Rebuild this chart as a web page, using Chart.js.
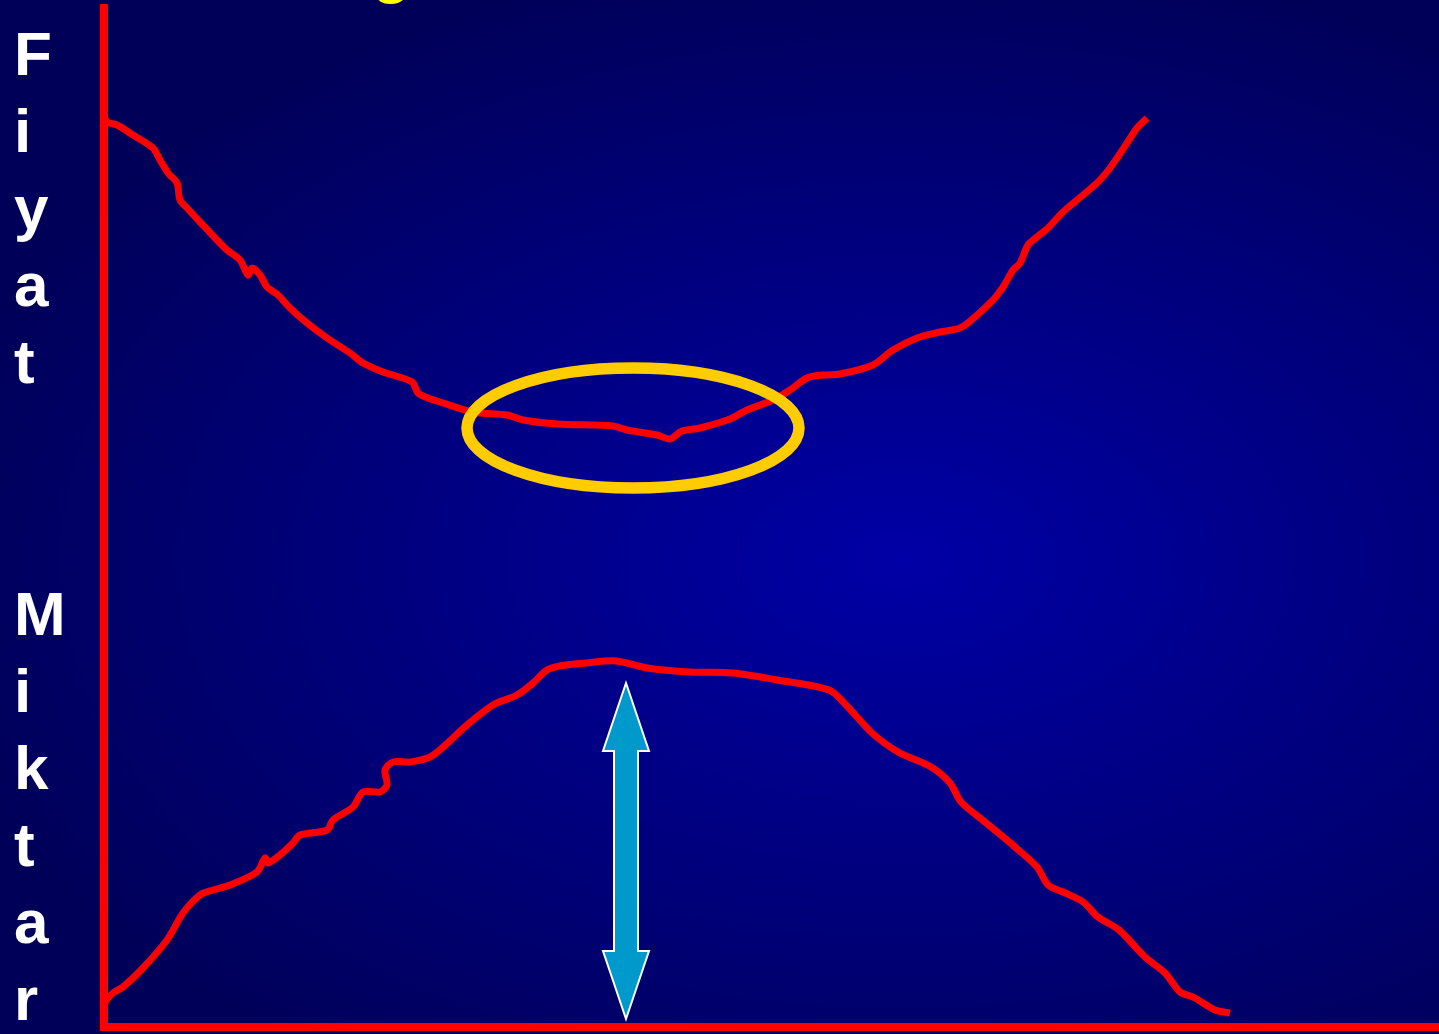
<!DOCTYPE html>
<html>
<head>
<meta charset="utf-8">
<script src="https://cdn.jsdelivr.net/npm/chart.js@4.4.1/dist/chart.umd.min.js"></script>
<style>
html, body {
    margin: 0;
    padding: 0;
    width: 1439px;
    height: 1034px;
    overflow: hidden;
}
body {
    position: relative;
    background: radial-gradient(ellipse 1000px 620px at 900px 560px, #0000a6 0%, #000058 100%);
    font-family: "Liberation Sans", Arial, sans-serif;
}
#wrap {
    position: absolute;
    left: 0;
    top: 0;
    width: 1439px;
    height: 1034px;
}
.col {
    position: absolute;
    left: 14px;
    color: #ffffff;
    font-weight: bold;
    font-size: 62px;
    line-height: 77px;
}
.col span { display: block; }
#title {
    position: absolute;
    left: 372px;
    top: -69px;
    color: #ffff00;
    font-weight: bold;
    font-size: 64px;
    line-height: 77px;
}
</style>
</head>
<body>
<div id="title">g</div>
<div class="col" id="fiyat" style="top:15px"></div>
<div class="col" id="miktar" style="top:575px"></div>
<div id="wrap"><canvas id="chart"></canvas></div>

<script>
// axis titles, written one letter under another
const priceLabel = 'Fiyat';
const qtyLabel = 'Miktar';

// price curve (upper line)
const priceX = [0, 0.3, 1.3, 2.9, 4.9, 5.6, 6.4, 7.3, 7.6, 8.3, 9.6, 11.3, 12.3, 13.6, 14.4, 14.8, 15.6,
    16.3, 17.4, 18.6, 20.3, 22.3, 24.6, 25.9, 27.9, 30.8, 31.4, 32.4, 33.6, 36.9, 40.3, 41.9, 45.3,
    50.9, 52.3, 55.3, 56.6, 57.8, 59.6, 62.6, 64.3, 66.9, 68.6, 70.3, 71.9, 73.6, 76.9, 78.9, 81.3,
    83.6, 85.8, 88.9, 89.9, 90.9, 91.6, 92.4, 93.3, 94.4, 95.9, 99.3, 100.6, 102.3, 103.3, 104.3];
const priceY = [91.2, 90.5, 90.2, 89.2, 87.9, 86.7, 85.4, 84.4, 82.7, 81.9, 80.5, 78.7, 77.7, 76.7, 75.2, 75.9, 75.2,
    74.0, 73.2, 71.9, 70.4, 68.9, 67.4, 66.4, 65.5, 64.5, 63.4, 62.9, 62.5, 61.5, 61.2, 60.7, 60.3,
    60.1, 59.7, 59.2, 58.8, 59.6, 59.9, 60.8, 61.7, 62.7, 63.7, 64.9, 65.2, 65.3, 66.2, 67.7, 68.9,
    69.5, 70.0, 72.7, 74.0, 75.7, 76.4, 78.2, 79.0, 79.9, 81.5, 84.4, 85.9, 88.4, 89.9, 90.9];

// quantity curve (lower line)
const qtyX = [0, 0.1, 0.9, 1.9, 3.9, 6.3, 7.9, 9.6, 10.9, 12.6, 15.3, 16.1, 16.4, 17.6, 18.9, 19.6, 22.3,
    22.9, 24.9, 25.9, 27.6, 28.3, 28.1, 28.9, 30.6, 32.8, 36.3, 38.9, 41.3, 42.9, 44.3, 45.6, 48.2,
    51.2, 54.3, 58.6, 62.9, 67.3, 72.5, 74.2, 76.8, 79.4, 82.7, 84.6, 85.7, 88.1, 91.1, 93.3, 94.4,
    95.9, 97.9, 99.4, 101.5, 104.1, 106.1, 107.6, 108.9, 111.1, 112.6];
const qtyY = [0.7, 2.4, 3.4, 4.0, 5.9, 8.7, 11.4, 13.2, 13.7, 14.2, 15.5, 16.9, 16.4, 17.2, 18.4, 19.2, 19.7,
    20.7, 22.0, 23.5, 23.5, 24.2, 25.7, 26.5, 26.5, 27.1, 30.2, 32.2, 33.2, 34.4, 35.7, 36.1, 36.4,
    36.6, 35.9, 35.5, 35.4, 34.7, 33.7, 32.2, 29.4, 27.5, 26.0, 24.4, 22.5, 20.5, 18.0, 16.0, 14.2,
    13.5, 12.5, 11.0, 9.7, 7.0, 5.4, 3.5, 3.0, 1.7, 1.4];

// marked spots: the ellipse round the lowest price, the arrow at the top quantity
const ringCenter = [52.9, 59.9];
const ringRadius = [16.6, 6.0];
const arrowX = 52.2;
const arrowY = [34.4, 0.8];

function fillLetters(id, word) {
    document.getElementById(id).innerHTML = word.split('').map(c => '<span>' + c + '</span>').join('');
}
fillLetters('fiyat', priceLabel);
fillLetters('miktar', qtyLabel);

function toPoints(xs, ys) {
    return xs.map((x, i) => ({ x: x, y: ys[i] }));
}

const marks = {
    id: 'marks',
    afterDatasetsDraw(chart) {
        const ctx = chart.ctx;
        const sx = chart.scales.x, sy = chart.scales.y;

        // yellow ellipse
        const cx = sx.getPixelForValue(ringCenter[0]);
        const cy = sy.getPixelForValue(ringCenter[1]);
        const rx = sx.getPixelForValue(ringCenter[0] + ringRadius[0]) - cx;
        const ry = cy - sy.getPixelForValue(ringCenter[1] + ringRadius[1]);
        ctx.save();
        ctx.beginPath();
        ctx.ellipse(cx, cy, rx, ry, 0, 0, Math.PI * 2);
        ctx.strokeStyle = '#ffcc00';
        ctx.lineWidth = 11.5;
        ctx.stroke();
        ctx.restore();

        // double arrow
        const ax = sx.getPixelForValue(arrowX);
        const top = sy.getPixelForValue(arrowY[0]);
        const bot = sy.getPixelForValue(arrowY[1]);
        const head = 68, hw = 23, sw = 12;
        ctx.save();
        ctx.beginPath();
        ctx.moveTo(ax, top);
        ctx.lineTo(ax + hw, top + head);
        ctx.lineTo(ax + sw, top + head);
        ctx.lineTo(ax + sw, bot - head);
        ctx.lineTo(ax + hw, bot - head);
        ctx.lineTo(ax, bot);
        ctx.lineTo(ax - hw, bot - head);
        ctx.lineTo(ax - sw, bot - head);
        ctx.lineTo(ax - sw, top + head);
        ctx.lineTo(ax - hw, top + head);
        ctx.closePath();
        ctx.fillStyle = '#0099cc';
        ctx.fill();
        ctx.strokeStyle = '#ffffff';
        ctx.lineWidth = 2;
        ctx.lineJoin = 'miter';
        ctx.stroke();
        ctx.restore();
    }
};

const axisOpts = {
    type: 'linear',
    ticks: { display: false },
    grid: { display: true, drawOnChartArea: false, drawTicks: false, color: 'rgba(0,0,0,0)', lineWidth: 0 },
    border: { display: true, color: '#ff0000', width: 8 }
};

new Chart(document.getElementById('chart'), {
    type: 'line',
    data: {
        datasets: [{
            label: priceLabel,
            data: toPoints(priceX, priceY),
            borderColor: '#ff0000',
            borderWidth: 7,
            pointRadius: 0,
            tension: 0.3,
            fill: false
        }, {
            label: qtyLabel,
            data: toPoints(qtyX, qtyY),
            borderColor: '#ff0000',
            borderWidth: 7,
            pointRadius: 0,
            tension: 0.3,
            fill: false
        }]
    },
    options: {
        responsive: true,
        maintainAspectRatio: false,
        animation: false,
        layout: { padding: { left: 104, top: 8, right: 0, bottom: 7 } },
        plugins: {
            legend: { display: false },
            tooltip: { enabled: false }
        },
        scales: {
            x: Object.assign({}, axisOpts, { min: 0, max: 133.5 }),
            y: Object.assign({}, axisOpts, { min: 0, max: 101.9 })
        }
    },
    plugins: [marks]
});
</script>
</body>
</html>
